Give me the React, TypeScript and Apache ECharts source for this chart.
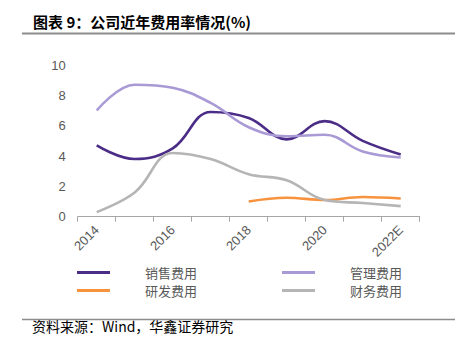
import React, { useEffect, useRef } from "react";
import * as echarts from "echarts";

const categories = ["2014", "2015", "2016", "2017", "2018", "2019", "2020", "2021", "2022E"];
const seriesNames = ["销售费用", "管理费用", "研发费用", "财务费用"];
const salesRate = [4.7, 3.8, 4.5, 6.9, 6.5, 5.1, 6.3, 5.0, 4.1];
const adminRate = [7.0, 8.7, 8.5, 7.5, 5.9, 5.3, 5.4, 4.3, 3.9];
const rdRate = [null, null, null, null, 1.0, 1.25, 1.1, 1.3, 1.2];
const financeRate = [0.3, 1.6, 4.2, 3.8, 2.8, 2.4, 1.1, 0.9, 0.7];
const colors = ["#4B2C86", "#A99AD6", "#F7933F", "#B5B5B5"];
const titleText = "图表 9：公司近年费用率情况(%)";
const sourceText = "资料来源：Wind，华鑫证券研究";

export default function App() {
  const ref = useRef<HTMLDivElement>(null);
  useEffect(() => {
    if (!ref.current) return;
    const chart = echarts.init(ref.current, null, { renderer: "svg" });
    const values = [salesRate, adminRate, rdRate, financeRate];
    const legendPos = [
      { left: 77, top: 266 },
      { left: 282, top: 266 },
      { left: 77, top: 284 },
      { left: 282, top: 284 },
    ];
    chart.setOption({
      animation: false,
      grid: { left: 77.7, right: 51.3, top: 65, bottom: 138.3 },
      legend: seriesNames.map((n, i) => ({
        data: [n],
        left: legendPos[i].left,
        top: legendPos[i].top,
        itemWidth: 33,
        itemHeight: 3,
        itemGap: 0,
        icon: "rect",
        padding: 0,
        textStyle: {
          color: "#595959",
          fontSize: 13,
          fontFamily: "Noto Sans CJK SC",
          padding: [0, 0, 0, 30],
        },
      })),
      xAxis: {
        type: "category",
        data: categories,
        boundaryGap: true,
        axisLine: { lineStyle: { color: "#A6A6A6", width: 1 } },
        axisTick: { show: true, interval: 0, length: 5, lineStyle: { color: "#A6A6A6" } },
        axisLabel: {
          interval: 1,
          rotate: 45,
          color: "#595959",
          fontSize: 13,
          fontFamily: "Liberation Sans",
          margin: 11,
        },
      },
      yAxis: {
        type: "value",
        min: 0,
        max: 10,
        interval: 2,
        axisLine: { show: false },
        axisTick: { show: false },
        splitLine: { show: false },
        axisLabel: { color: "#595959", fontSize: 13, fontFamily: "Liberation Sans", margin: 12 },
      },
      series: seriesNames.map((n, i) => ({
        name: n,
        type: "line",
        data: values[i],
        smooth: 0.4,
        showSymbol: false,
        symbol: "none",
        connectNulls: false,
        lineStyle: { color: colors[i], width: 2.6 },
        itemStyle: { color: colors[i] },
      })),
      graphic: [
        {
          type: "text",
          left: 33,
          top: 14,
          style: {
            text: titleText,
            fill: "#000",
            font: "bold 15px 'Noto Sans CJK SC'",
          },
        },
        {
          type: "line",
          shape: { x1: 22, y1: 33.5, x2: 455, y2: 33.5 },
          style: { stroke: "#8C8C8C", lineWidth: 2 },
        },
        {
          type: "line",
          shape: { x1: 22, y1: 319.5, x2: 455, y2: 319.5 },
          style: { stroke: "#8C8C8C", lineWidth: 1.5 },
        },
        {
          type: "text",
          left: 32,
          top: 319,
          style: {
            text: sourceText,
            fill: "#000",
            font: "14px 'Noto Sans CJK SC'",
          },
        },
      ],
    });
    return () => chart.dispose();
  }, []);
  return <div ref={ref} style={{ width: 471, height: 355, position: "absolute", left: 0, top: 0 }} />;
}
